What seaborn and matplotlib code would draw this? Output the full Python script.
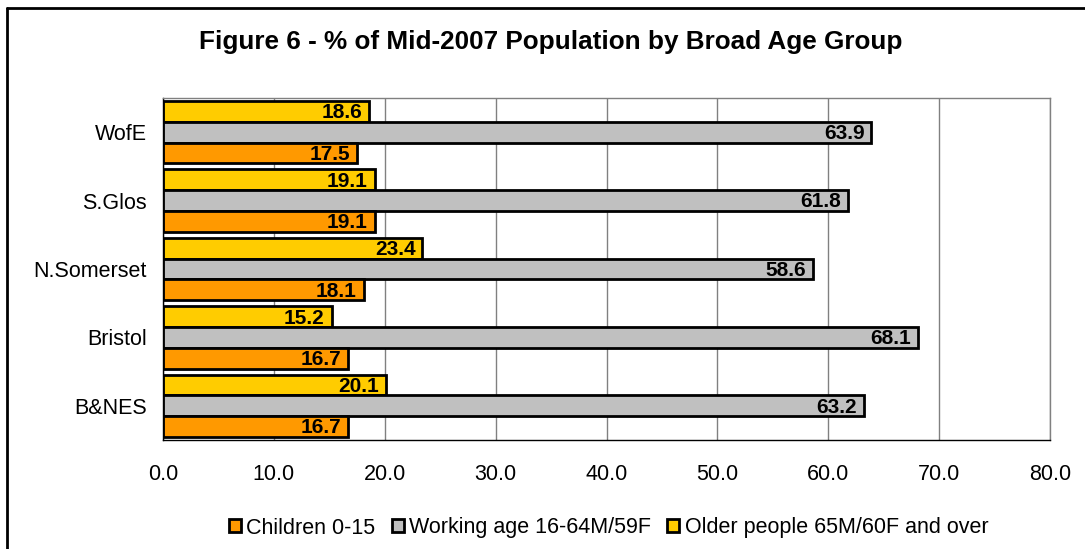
import matplotlib
matplotlib.use("Agg")
import matplotlib.pyplot as plt
from matplotlib.lines import Line2D
from matplotlib.patches import Patch
import seaborn as sns
import pandas as pd

areas = ["WofE", "S.Glos", "N.Somerset", "Bristol", "B&NES"]
children = [17.5, 19.1, 18.1, 16.7, 16.7]
working = [63.9, 61.8, 58.6, 68.1, 63.2]
older = [18.6, 19.1, 23.4, 15.2, 20.1]

groups = ["Children 0-15", "Working age 16-64M/59F", "Older people 65M/60F and over"]
colors = {groups[0]: "#FF9900", groups[1]: "#C0C0C0", groups[2]: "#FFCC00"}

rows = []
for name, series in zip(groups, [children, working, older]):
    for area, v in zip(areas, series):
        rows.append({"area": area, "group": name, "value": v})
df = pd.DataFrame(rows)

sns.set_style("white")
plt.rcParams["font.family"] = ["Liberation Sans", "DejaVu Sans"]
plt.rcParams["text.color"] = "black"
plt.rcParams["axes.labelcolor"] = "black"
plt.rcParams["xtick.color"] = "black"
plt.rcParams["ytick.color"] = "black"

fig = plt.figure(figsize=(10.85, 5.49), dpi=100)
ax = fig.add_axes([163 / 1085, 1 - 440 / 549, (1050 - 163) / 1085, (440 - 98) / 549])

# Older at the top of each group, children at the bottom
stack_order = [groups[2], groups[1], groups[0]]
sns.barplot(data=df, y="area", x="value", hue="group", order=areas,
            hue_order=stack_order, palette=colors, orient="h", width=0.91,
            gap=0.0, edgecolor="black", linewidth=2, saturation=1,
            legend=False, ax=ax, errorbar=None)

values_by_group = {groups[0]: children, groups[1]: working, groups[2]: older}
for cont, name in zip(ax.containers, stack_order):
    for bar, v in zip(cont, values_by_group[name]):
        yc = bar.get_y() + bar.get_height() / 2
        ax.annotate(f"{v:.1f}", xy=(v, yc), xytext=(-5, -1), textcoords="offset points",
                    ha="right", va="center", fontsize=15, fontweight="bold", color="black")

ax.set_xlim(0, 80)
ax.set_ylim(4.5, -0.5)
ax.set_xticks(range(0, 81, 10))
ax.set_xticklabels([f"{t:.1f}" for t in range(0, 81, 10)], fontsize=15.5)
ax.set_yticks(range(len(areas)))
ax.set_yticklabels(areas, fontsize=15.5)
ax.set_yticks([i - 0.5 for i in range(len(areas) + 1)], minor=True)
ax.tick_params(axis="y", which="major", length=0, pad=11.5)
ax.tick_params(axis="y", which="minor", length=6, width=1, color="black", direction="out")
ax.tick_params(axis="x", which="major", length=5, width=1, color="black", direction="out", pad=12)
ax.set_xlabel("")
ax.set_ylabel("")
ax.grid(axis="x", color="#808080", linewidth=1)
ax.set_axisbelow(True)
for side in ["top", "right"]:
    ax.spines[side].set_visible(True)
    ax.spines[side].set_color("#808080")
    ax.spines[side].set_linewidth(1)
for side in ["left", "bottom"]:
    ax.spines[side].set_color("black")
    ax.spines[side].set_linewidth(1)

fig.text(551 / 1085, 1 - 49 / 549, "Figure 6 - % of Mid-2007 Population by Broad Age Group",
         ha="center", va="baseline", fontsize=18.8, fontweight="bold")

handles = [Patch(facecolor=colors[g], edgecolor="black", linewidth=2) for g in groups]
fig.legend(handles, groups, loc="center left", bbox_to_anchor=(229 / 1085, 1 - 528 / 549),
           ncol=3, frameon=False, fontsize=15.5, handlelength=0.56, handleheight=0.56,
           handletextpad=0.25, columnspacing=0.75, borderpad=0, borderaxespad=0)

# chart frame
fig.add_artist(Line2D([7 / 1085, 1.0], [1 - 8 / 549, 1 - 8 / 549], color="black", linewidth=2))
fig.add_artist(Line2D([7 / 1085, 7 / 1085], [0.0, 1 - 8 / 549], color="black", linewidth=2))

fig.savefig("out.png", dpi=100, facecolor="white")
